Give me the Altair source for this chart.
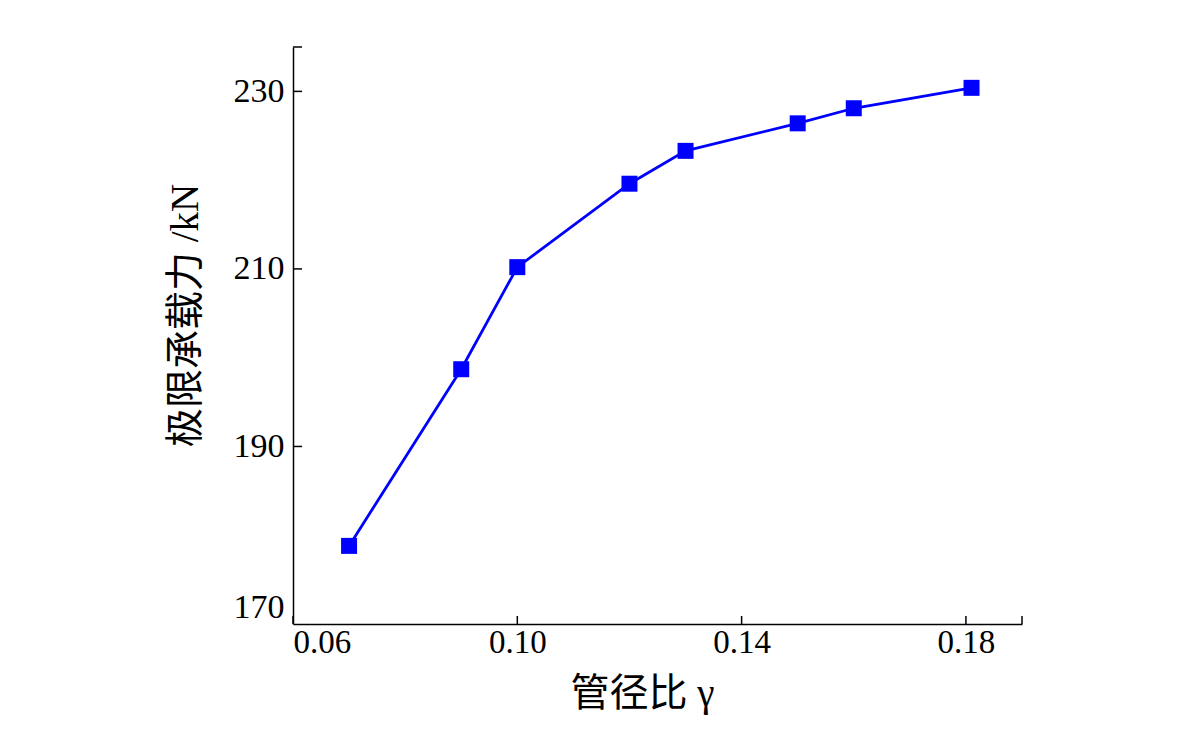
import altair as alt
import pandas as pd

# data
gamma = [0.070, 0.090, 0.100, 0.120, 0.130, 0.150, 0.160, 0.181]
load = [178.8, 198.7, 210.2, 219.6, 223.3, 226.4, 228.1, 230.4]

x_ticks = [0.06, 0.10, 0.14, 0.18]
y_ticks = [170, 190, 210, 230]
x_marks = [0.06, 0.10, 0.14, 0.18, 0.19]
y_marks = [190, 210, 230, 235]

df = pd.DataFrame({"gamma": gamma, "load": load})
dx = pd.DataFrame({"gamma": x_marks})
dy = pd.DataFrame({"load": y_marks})

W, H = 729, 577
SERIF = "Liberation Serif, Noto Sans CJK SC"

xscale = alt.Scale(domain=[0.06, 0.19], nice=False, zero=False)
yscale = alt.Scale(domain=[170, 235], nice=False, zero=False)

xaxis = alt.Axis(values=x_ticks, format=".2f", title="管径比 γ", grid=False,
                 ticks=False, tickSize=0, labelFlush=True, labelPadding=2,
                 labelFont=SERIF, labelFontSize=33, labelColor="black",
                 domainColor="black", domainWidth=1.5,
                 titleFont=SERIF, titleFontSize=39, titleFontWeight="normal",
                 titleColor="black", titleX=349, titleY=81,
                 titleBaseline="alphabetic")
yaxis = alt.Axis(values=y_ticks, format="d", title="极限承载力  /kN", grid=False,
                 ticks=False, tickSize=0, labelFlush=True, labelPadding=9,
                 labelFont=SERIF, labelFontSize=34, labelColor="black",
                 domainColor="black", domainWidth=1.5,
                 titleFont=SERIF, titleFontSize=39, titleFontWeight="normal",
                 titleColor="black", titleX=-96, titleY=268, titleAngle=270,
                 titleAlign="center", titleBaseline="alphabetic")

line = alt.Chart(df).mark_line(color="#0000FF", strokeWidth=2.8).encode(
    x=alt.X("gamma:Q", scale=xscale, axis=xaxis),
    y=alt.Y("load:Q", scale=yscale, axis=yaxis),
)
pts = alt.Chart(df).mark_square(color="#0000FF", filled=True, size=256, opacity=1).encode(
    x=alt.X("gamma:Q", scale=xscale, axis=xaxis),
    y=alt.Y("load:Q", scale=yscale, axis=yaxis),
)
xt = alt.Chart(dx).mark_rule(color="black", strokeWidth=1.5).encode(
    x=alt.X("gamma:Q", scale=xscale, axis=xaxis),
    y=alt.value(H),
    y2=alt.value(H - 8),
)
yt = alt.Chart(dy).mark_rule(color="black", strokeWidth=1.5).encode(
    y=alt.Y("load:Q", scale=yscale, axis=yaxis),
    x=alt.value(0),
    x2=alt.value(9),
)

chart = alt.layer(line, pts, xt, yt).properties(
    width=W, height=H,
    autosize=alt.AutoSizeParams(type="none"),
    padding={"left": 285, "top": 39, "right": 160, "bottom": 110},
    background="white",
).configure_view(strokeWidth=0)

chart.save("out.html", embed_options={"renderer": "svg", "actions": False})
